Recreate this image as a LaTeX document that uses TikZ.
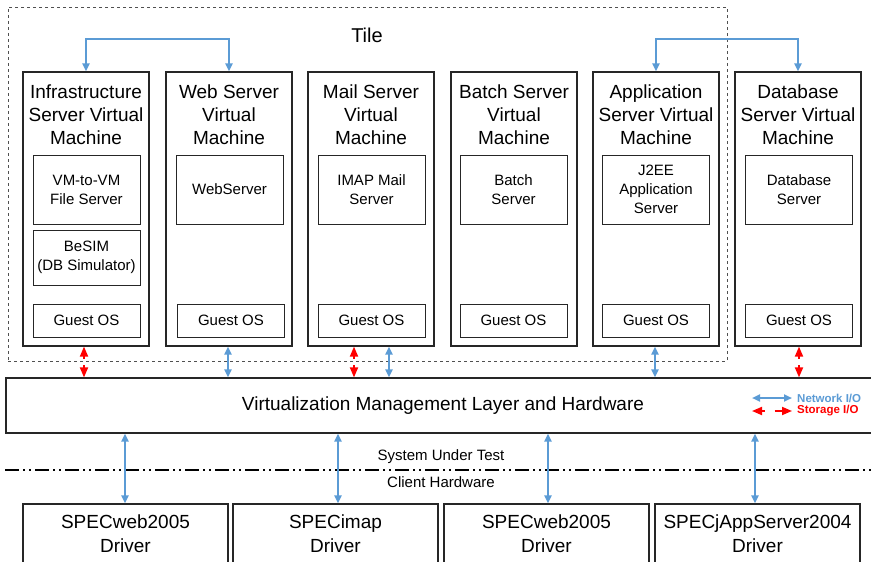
\documentclass[tikz,border=0pt]{standalone}
\usepackage{fontspec}
\setmainfont{Liberation Sans}
\usetikzlibrary{arrows.meta}
\definecolor{netblue}{RGB}{91,155,213}
\definecolor{stored}{RGB}{255,0,0}
\definecolor{tilegray}{RGB}{80,80,80}
\begin{document}
\begin{tikzpicture}[x=1pt,y=-1pt,
 vmbox/.style={draw=black!85, line width=1.2pt, minimum width=126pt, minimum height=274pt, inner sep=0pt},
 inbox/.style={draw=black!85, line width=1pt, minimum width=107pt, inner sep=0pt, align=center, font=\fontsize{15}{19}\selectfont},
 vmtitle/.style={align=center, font=\fontsize{19}{23}\selectfont, inner sep=0pt},
 drvbox/.style={draw=black!85, line width=1.2pt, minimum width=205pt, minimum height=60pt, inner sep=0pt, align=center, font=\fontsize{19}{24}\selectfont},
 net/.style={netblue, line width=2pt, {Triangle[length=8pt,width=7pt]}-{Triangle[length=8pt,width=7pt]}},
 sto/.style={stored, line width=1.8pt, {Triangle[length=10pt,width=8pt]}-{Triangle[length=10pt,width=8pt]}, dash pattern=on 3pt off 6pt},
 smalltext/.style={font=\fontsize{15}{18}\selectfont, inner sep=0pt},
 legtext/.style={font=\bfseries\fontsize{11.5}{13}\selectfont, inner sep=0pt, anchor=west}
]
\useasboundingbox (0,0) rectangle (871,562);
\clip (0,0) rectangle (871,562);

% tile
\node[draw=tilegray, line width=1pt, dash pattern=on 3pt off 3pt, minimum width=719pt, minimum height=354pt, inner sep=0pt] (tile) at (367.5,184) {};
\node[font=\fontsize{20}{24}\selectfont, inner sep=0pt] (tilelbl) at (367,35) {Tile};

% VMs
\node[vmbox] (vm1) at (86,209) {};
\node[vmbox] (vm2) at (229,209) {};
\node[vmbox] (vm3) at (371,209) {};
\node[vmbox] (vm4) at (514,209) {};
\node[vmbox] (vm5) at (656,209) {};
\node[vmbox] (vm6) at (798,209) {};

\node[vmtitle] (t1) at (86,115) {Infrastructure\\Server Virtual\\Machine};
\node[vmtitle] (t2) at (229,115) {Web Server\\Virtual\\Machine};
\node[vmtitle] (t3) at (371,115) {Mail Server\\Virtual\\Machine};
\node[vmtitle] (t4) at (514,115) {Batch Server\\Virtual\\Machine};
\node[vmtitle] (t5) at (656,115) {Application\\Server Virtual\\Machine};
\node[vmtitle] (t6) at (798,115) {Database\\Server Virtual\\Machine};

% inner apps
\node[inbox, minimum height=69pt] (a1) at (86.5,189.5) {VM-to-VM\\File Server};
\node[inbox, minimum height=55pt] (b1) at (86.5,257.5) {BeSIM\\(DB Simulator)};
\node[inbox, minimum height=69pt] (a2) at (229.5,189.5) {WebServer};
\node[inbox, minimum height=69pt] (a3) at (371.5,189.5) {IMAP Mail\\Server};
\node[inbox, minimum height=69pt] (a4) at (513.5,189.5) {Batch\\Server};
\node[inbox, minimum height=69pt] (a5) at (656,189.5) {J2EE\\Application\\Server};
\node[inbox, minimum height=69pt] (a6) at (799,189.5) {Database\\Server};

% guest OS
\node[inbox, minimum height=33pt] (g1) at (86.5,320.5) {Guest OS};
\node[inbox, minimum height=33pt] (g2) at (231,320.5) {Guest OS};
\node[inbox, minimum height=33pt] (g3) at (371.5,320.5) {Guest OS};
\node[inbox, minimum height=33pt] (g4) at (513.5,320.5) {Guest OS};
\node[inbox, minimum height=33pt] (g5) at (656,320.5) {Guest OS};
\node[inbox, minimum height=33pt] (g6) at (799,320.5) {Guest OS};

% layer
\node[draw=black!85, line width=1.2pt, minimum width=874pt, minimum height=55pt, inner sep=0pt, font=\fontsize{19}{23}\selectfont] (layer) at (443,405.5) {Virtualization Management Layer and Hardware\hspace{4pt}};

% top connectors
\draw[net] (vm1.north) -- ++(0,-32) -| (vm2.north);
\draw[net] (vm5.north) -- ++(0,-32) -| (vm6.north);

% VM to layer
\draw[sto] ([xshift=-2pt]vm1.south) -- ([xshift=-2pt]vm1.south |- layer.north);
\draw[net] ([xshift=-1pt]vm2.south) -- ([xshift=-1pt]vm2.south |- layer.north);
\draw[sto] ([xshift=-17pt]vm3.south) -- ([xshift=-17pt]vm3.south |- layer.north);
\draw[net] ([xshift=18pt]vm3.south) -- ([xshift=18pt]vm3.south |- layer.north);
\draw[net] ([xshift=-1pt]vm5.south) -- ([xshift=-1pt]vm5.south |- layer.north);
\draw[sto] ([xshift=1pt]vm6.south) -- ([xshift=1pt]vm6.south |- layer.north);

% legend
\coordinate (ln1) at (752,398);
\coordinate (ln2) at (792,398);
\coordinate (ls1) at (752,411);
\coordinate (ls2) at (792,411);
\draw[net] (ln1) -- (ln2);
\draw[sto, dash pattern=on 3pt off 10pt on 8pt] (ls1) -- (ls2);
\node[legtext, text=netblue] (lnt) at (797,398) {Network I/O};
\node[legtext, text=stored] (lst) at (797,411) {Storage I/O};

% separator
\coordinate (sep1) at (5,469.5);
\coordinate (sep2) at (875,469.5);
\draw[line width=2pt, dash pattern=on 14pt off 4pt on 2pt off 4pt on 2pt off 4pt] (sep1) -- (sep2);
\node[smalltext] (sut) at (441,457) {System Under Test};
\node[smalltext] (ch) at (441,482) {Client Hardware};

% drivers
\node[drvbox] (d1) at (125.5,534) {SPECweb2005\\Driver};
\node[drvbox] (d2) at (335.5,534) {SPECimap\\Driver};
\node[drvbox] (d3) at (546.5,534) {SPECweb2005\\Driver};
\node[drvbox] (d4) at (757.5,534) {SPECjAppServer2004\\Driver};

\draw[net] ([xshift=-0.5pt]d1.north) -- ([xshift=-0.5pt]d1.north |- layer.south);
\draw[net] ([xshift=2.5pt]d2.north) -- ([xshift=2.5pt]d2.north |- layer.south);
\draw[net] ([xshift=1.5pt]d3.north) -- ([xshift=1.5pt]d3.north |- layer.south);
\draw[net] ([xshift=-2.5pt]d4.north) -- ([xshift=-2.5pt]d4.north |- layer.south);
\end{tikzpicture}
\end{document}
